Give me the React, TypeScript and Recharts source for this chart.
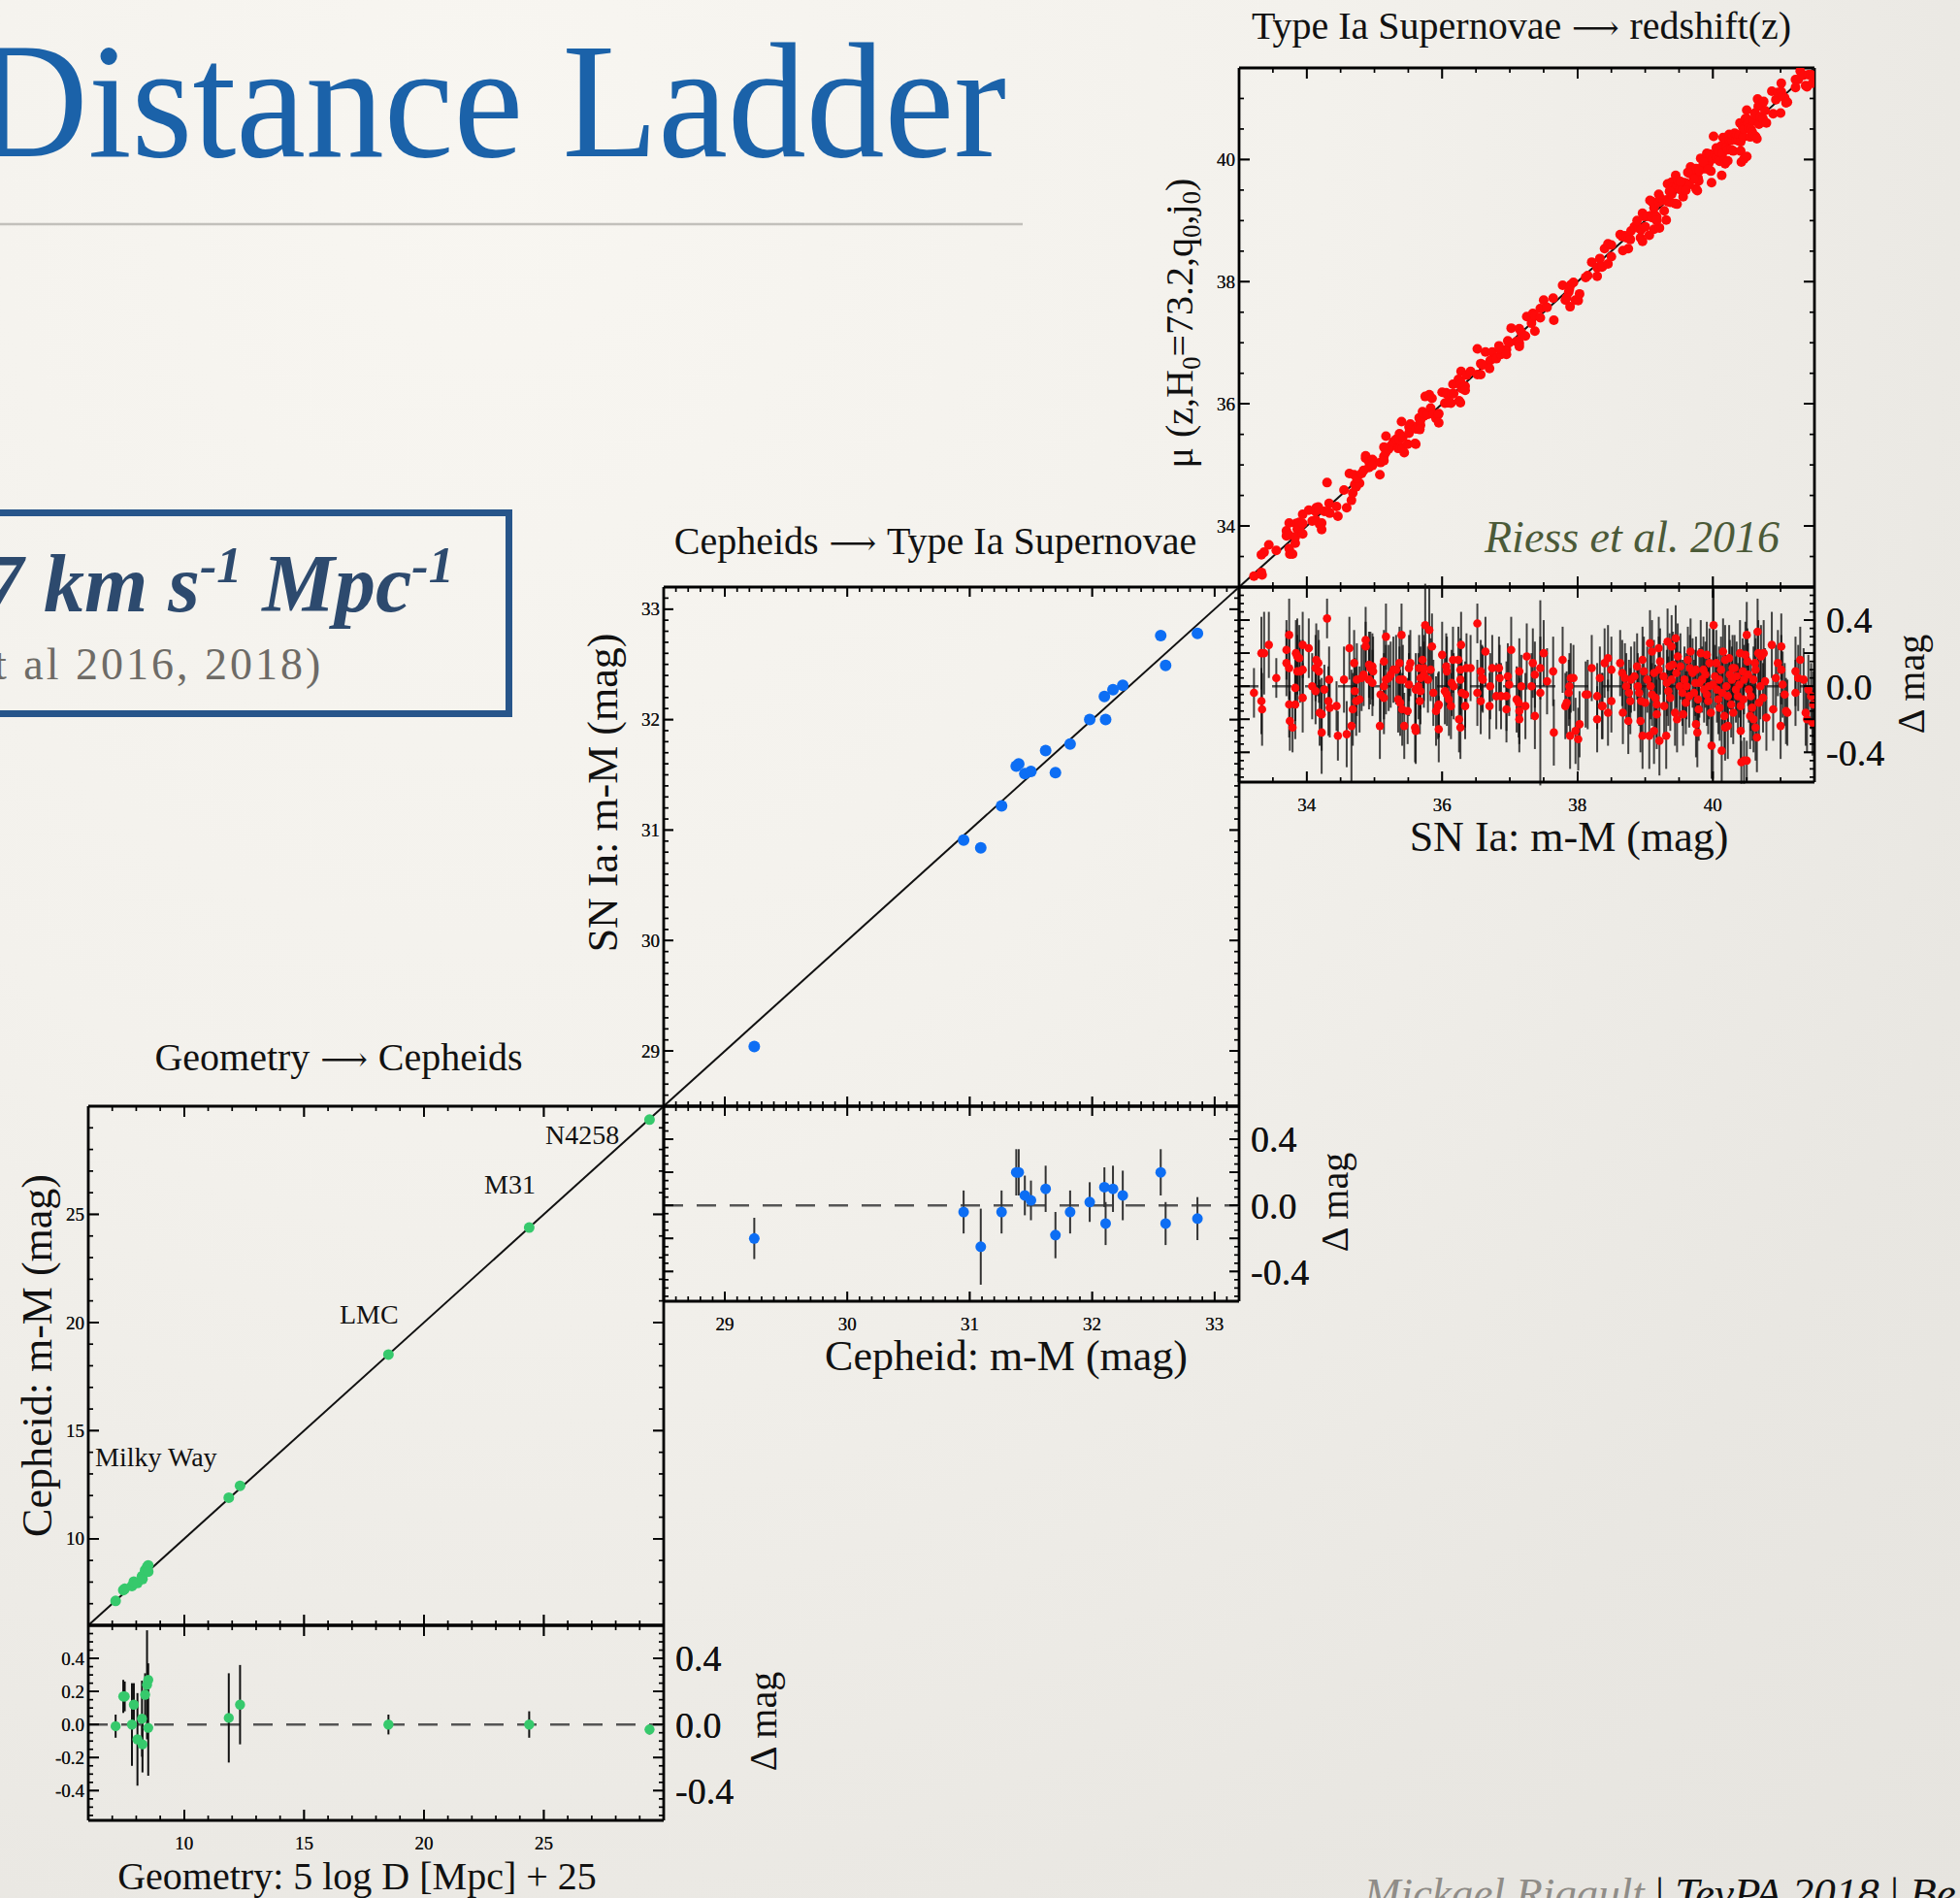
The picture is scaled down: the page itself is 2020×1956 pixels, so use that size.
import { ScatterChart, Scatter, XAxis, YAxis, ReferenceLine, ErrorBar } from 'recharts';

// Geometry -> Cepheids (distance modulus, residual, residual error)
const geoDist = [7.14, 7.46, 7.52, 7.82, 7.9, 8.05, 8.24, 8.26, 8.37, 8.45, 8.5, 8.5, 11.86, 12.33, 18.52, 24.39, 29.41];
const geoDelta = [-0.01, 0.17, 0.17, 0.0, 0.12, -0.09, 0.035, -0.12, 0.18, 0.24, 0.27, -0.02, 0.04, 0.12, 0.0, 0.0, -0.03];
const geoErr = [0.07, 0.1, 0.09, 0.25, 0.13, 0.28, 0.23, 0.17, 0.13, 0.33, 0.1, 0.29, 0.27, 0.24, 0.06, 0.08, 0.03];

// Cepheids -> SN Ia
const cephDist = [29.24, 30.95, 31.09, 31.26, 31.38, 31.4, 31.45, 31.5, 31.62, 31.7, 31.82, 31.98, 32.1, 32.11, 32.17, 32.25, 32.56, 32.6, 32.86];
const cephDelta = [-0.2, -0.04, -0.25, -0.04, 0.2, 0.2, 0.06, 0.03, 0.1, -0.18, -0.04, 0.02, 0.11, -0.11, 0.1, 0.06, 0.2, -0.11, -0.08];
const cephErr = [0.125, 0.13, 0.23, 0.13, 0.14, 0.14, 0.12, 0.12, 0.14, 0.14, 0.13, 0.12, 0.12, 0.13, 0.14, 0.15, 0.14, 0.13, 0.13];

// SN Ia -> redshift: [m-M, residual, error]
const snIa: [number, number, number][] = [
  [33.22, -0.04, 0.15], [33.33, 0.2, 0.22], [33.37, 0.2, 0.25], [33.33, -0.09, 0.2], [33.34, -0.14, 0.22],
  [33.44, 0.25, 0.2], [33.55, 0.05, 0.12], [33.7, 0.22, 0.18], [33.7, 0.14, 0.2], [33.74, 0.31, 0.22],
  [33.74, 0.11, 0.19], [33.74, -0.11, 0.2], [33.75, -0.21, 0.18], [33.79, -0.25, 0.15], [33.83, -0.11, 0.21],
  [33.84, 0.2, 0.2], [33.86, 0.18, 0.23], [33.89, 0.17, 0.2], [33.86, 0.09, 0.22], [33.9, 0.09, 0.19],
  [33.94, 0.1, 0.18], [33.83, -0.01, 0.2], [33.94, -0.07, 0.21], [33.94, 0.25, 0.2], [34.03, 0.23, 0.18],
  [34.08, 0.0, 0.2], [34.13, 0.11, 0.2], [34.14, 0.16, 0.22], [34.17, 0.14, 0.2], [34.18, 0.09, 0.19],
  [34.13, -0.03, 0.2], [34.19, -0.16, 0.2], [34.22, -0.17, 0.22], [34.22, -0.28, 0.25], [34.26, -0.02, 0.15],
  [34.3, 0.41, 0.12], [34.33, 0.04, 0.2], [34.32, -0.09, 0.21], [34.34, -0.13, 0.18], [34.44, -0.12, 0.15],
  [34.46, -0.3, 0.15], [34.55, 0.04, 0.2], [34.59, -0.29, 0.2], [34.63, 0.23, 0.19], [34.66, -0.24, 0.34],
  [34.68, -0.14, 0.22], [34.7, 0.14, 0.2], [34.71, -0.03, 0.2], [34.73, -0.09, 0.21], [34.78, -0.08, 0.2],
  [34.74, 0.04, 0.22], [34.81, 0.05, 0.2], [34.84, 0.07, 0.19], [34.87, 0.24, 0.15], [34.87, 0.28, 0.2],
  [34.92, 0.13, 0.2], [34.94, 0.11, 0.22], [34.97, 0.12, 0.2], [34.98, 0.09, 0.21], [34.92, 0.04, 0.18],
  [34.97, 0.02, 0.2], [35.08, -0.24, 0.2], [35.09, -0.05, 0.19], [35.14, -0.07, 0.22], [35.14, 0.0, 0.2],
  [35.17, 0.04, 0.21], [35.21, 0.05, 0.2], [35.24, 0.07, 0.2], [35.14, 0.15, 0.19], [35.17, 0.3, 0.2],
  [35.28, 0.1, 0.2], [35.32, 0.1, 0.21], [35.37, 0.14, 0.22], [35.35, -0.08, 0.2], [35.38, -0.1, 0.2],
  [35.41, -0.14, 0.22], [35.49, -0.15, 0.2], [35.4, 0.31, 0.19], [35.44, -0.24, 0.2], [35.37, 0.04, 0.2],
  [35.42, 0.04, 0.21], [35.51, 0.11, 0.2], [35.53, 0.14, 0.2], [35.51, 0.01, 0.19], [35.61, -0.02, 0.22],
  [35.65, 0.0, 0.2], [35.68, -0.03, 0.2], [35.6, -0.25, 0.21], [35.61, -0.27, 0.2], [35.66, 0.11, 0.2],
  [35.68, 0.05, 0.19], [35.73, 0.07, 0.2], [35.67, -0.09, 0.2], [35.71, 0.16, 0.21], [35.73, 0.11, 0.2],
  [35.75, 0.37, 0.25], [35.81, 0.34, 0.27], [35.85, 0.24, 0.2], [35.79, 0.04, 0.2], [35.83, 0.1, 0.19],
  [35.87, -0.04, 0.2], [35.91, -0.15, 0.21], [35.94, -0.12, 0.2], [35.95, -0.11, 0.2], [35.95, -0.26, 0.2],
  [36.0, 0.19, 0.2], [36.04, -0.03, 0.2], [36.07, -0.05, 0.19], [36.1, -0.08, 0.22], [36.13, -0.12, 0.2],
  [36.06, 0.12, 0.2], [36.07, 0.09, 0.21], [36.16, 0.16, 0.2], [36.24, 0.16, 0.2], [36.27, 0.1, 0.19],
  [36.14, 0.02, 0.2], [36.17, 0.0, 0.2], [36.27, 0.04, 0.21], [36.29, -0.04, 0.2], [36.34, -0.05, 0.2],
  [36.25, -0.2, 0.2], [36.27, -0.25, 0.19], [36.28, 0.25, 0.2], [36.34, -0.12, 0.2], [36.36, 0.11, 0.21],
  [36.42, 0.11, 0.2], [36.52, 0.38, 0.12], [36.52, -0.04, 0.2], [36.57, -0.09, 0.2], [36.57, 0.09, 0.19],
  [36.59, 0.05, 0.2], [36.6, 0.04, 0.2], [36.64, 0.21, 0.21], [36.71, 0.0, 0.2], [36.7, -0.12, 0.2],
  [36.74, 0.11, 0.2], [36.84, 0.11, 0.19], [36.8, -0.06, 0.2], [36.87, -0.06, 0.2], [36.95, -0.06, 0.21],
  [36.85, 0.05, 0.2], [36.95, -0.14, 0.2], [36.97, 0.06, 0.2], [36.99, 0.01, 0.19], [37.02, 0.22, 0.2],
  [37.1, -0.08, 0.2], [37.13, -0.1, 0.21], [37.14, -0.15, 0.2], [37.14, -0.2, 0.2], [37.14, 0.09, 0.2],
  [37.17, 0.0, 0.19], [37.23, -0.12, 0.2], [37.25, 0.18, 0.2], [37.32, 0.0, 0.2], [37.34, 0.14, 0.21],
  [37.37, 0.07, 0.2], [37.37, -0.18, 0.2], [37.45, 0.11, 0.19], [37.45, -0.04, 0.56], [37.5, 0.2, 0.2],
  [37.55, 0.03, 0.2], [37.64, 0.09, 0.21], [37.65, -0.28, 0.2], [37.78, 0.16, 0.2], [37.82, -0.12, 0.2],
  [37.84, -0.1, 0.19], [37.87, -0.04, 0.2], [37.88, 0.0, 0.2], [37.9, 0.05, 0.21], [37.94, 0.05, 0.2],
  [37.89, -0.3, 0.2], [37.97, -0.27, 0.2], [38.01, -0.32, 0.19], [38.03, -0.23, 0.2], [38.12, -0.05, 0.2],
  [38.15, -0.05, 0.21], [38.21, 0.11, 0.2], [38.29, -0.2, 0.2], [38.29, -0.06, 0.2], [38.33, 0.05, 0.19],
  [38.36, -0.12, 0.2], [38.37, -0.12, 0.2], [38.4, 0.14, 0.21], [38.45, 0.17, 0.2], [38.5, 0.1, 0.2],
  [38.45, -0.16, 0.2], [38.5, -0.09, 0.19], [38.63, 0.14, 0.2], [38.66, 0.08, 0.2], [38.7, 0.05, 0.21],
  [38.72, 0.0, 0.2], [38.76, -0.04, 0.2], [38.78, -0.09, 0.2], [38.67, -0.16, 0.19], [38.75, -0.21, 0.2],
  [38.79, 0.04, 0.2], [38.84, 0.06, 0.21], [38.89, 0.0, 0.2], [38.91, -0.04, 0.2], [38.94, -0.09, 0.2],
  [38.93, -0.21, 0.19], [38.96, -0.3, 0.2], [38.96, 0.16, 0.2], [38.98, 0.09, 0.21], [38.88, 0.12, 0.2],
  [39.0, -0.1, 0.2], [39.07, 0.26, 0.2], [39.1, 0.21, 0.19], [39.06, -0.3, 0.2], [39.13, -0.27, 0.2],
  [39.21, -0.33, 0.21], [39.31, -0.3, 0.2], [39.03, 0.04, 0.2], [39.08, 0.0, 0.2], [39.1, -0.05, 0.19],
  [39.15, -0.07, 0.2], [39.17, -0.11, 0.2], [39.17, -0.17, 0.21], [39.13, 0.08, 0.2], [39.2, 0.1, 0.2],
  [39.22, 0.15, 0.2], [39.2, 0.23, 0.19], [39.27, 0.06, 0.2], [39.32, 0.02, 0.2], [39.34, -0.03, 0.21],
  [39.37, -0.07, 0.2], [39.39, 0.04, 0.2], [39.33, 0.27, 0.2], [39.39, 0.24, 0.19], [39.45, 0.29, 0.2],
  [39.41, 0.13, 0.2], [39.46, 0.08, 0.21], [39.48, 0.18, 0.2], [39.44, -0.16, 0.2], [39.47, -0.2, 0.2],
  [39.56, -0.17, 0.19], [39.28, -0.12, 0.2], [39.36, 0.12, 0.2], [39.51, 0.0, 0.21], [39.55, -0.04, 0.2],
  [39.58, 0.04, 0.2], [39.61, 0.0, 0.2], [39.65, -0.06, 0.19], [39.67, 0.21, 0.2], [39.66, 0.11, 0.2],
  [39.7, 0.08, 0.21], [39.74, 0.02, 0.2], [39.75, 0.1, 0.2], [39.78, -0.08, 0.2], [39.79, -0.14, 0.19],
  [39.82, 0.2, 0.2], [39.75, -0.23, 0.2], [39.77, -0.28, 0.21], [39.84, 0.04, 0.2], [39.87, -0.02, 0.2],
  [39.89, 0.07, 0.2], [39.91, -0.05, 0.19], [39.94, 0.0, 0.2], [39.91, 0.19, 0.2], [39.95, 0.14, 0.21],
  [39.97, -0.16, 0.2], [39.98, -0.36, 0.2], [39.52, 0.12, 0.2], [39.6, -0.1, 0.19], [39.63, 0.16, 0.2],
  [39.72, -0.04, 0.2], [39.8, 0.02, 0.21], [39.86, 0.1, 0.2], [39.93, -0.09, 0.2], [40.01, 0.37, 0.22],
  [40.0, 0.01, 0.57], [40.03, 0.06, 0.19], [40.05, 0.14, 0.2], [40.06, -0.02, 0.2], [40.08, -0.08, 0.21],
  [40.09, 0.04, 0.2], [40.1, -0.13, 0.2], [40.12, 0.1, 0.2], [40.13, -0.39, 0.19], [40.14, -0.04, 0.2],
  [40.15, 0.21, 0.2], [40.18, 0.16, 0.21], [40.17, -0.18, 0.2], [40.18, -0.25, 0.2], [40.22, -0.24, 0.2],
  [40.2, 0.0, 0.19], [40.22, -0.06, 0.2], [40.24, 0.17, 0.2], [40.25, 0.07, 0.21], [40.27, -0.11, 0.2],
  [40.28, 0.04, 0.2], [40.29, 0.11, 0.2], [40.3, -0.16, 0.19], [40.32, 0.11, 0.2], [40.34, -0.02, 0.2],
  [40.35, 0.06, 0.21], [40.37, -0.06, 0.2], [40.39, 0.01, 0.2], [40.4, 0.2, 0.2], [40.41, -0.12, 0.19],
  [40.41, -0.27, 0.2], [40.42, -0.46, 0.13], [40.46, -0.45, 0.14], [40.5, -0.45, 0.12], [40.44, 0.09, 0.2],
  [40.45, -0.08, 0.2], [40.46, 0.04, 0.21], [40.48, 0.19, 0.2], [40.5, 0.31, 0.2], [40.51, 0.15, 0.2],
  [40.52, 0.07, 0.19], [40.53, -0.02, 0.2], [40.55, -0.18, 0.2], [40.56, -0.06, 0.21], [40.58, -0.13, 0.2],
  [40.6, 0.04, 0.2], [40.62, 0.14, 0.2], [40.63, 0.1, 0.19], [40.6, -0.2, 0.2], [40.63, -0.25, 0.2],
  [40.65, -0.31, 0.21], [40.66, 0.33, 0.2], [40.67, 0.2, 0.2], [40.68, -0.1, 0.2], [40.71, 0.18, 0.19],
  [40.75, 0.2, 0.2], [40.7, 0.0, 0.2], [40.74, -0.07, 0.21], [40.77, 0.03, 0.2], [40.79, -0.19, 0.2],
  [40.87, 0.25, 0.2], [40.89, -0.14, 0.19], [40.93, 0.05, 0.2], [40.96, 0.14, 0.2], [41.01, 0.1, 0.21],
  [41.01, 0.24, 0.2], [41.0, -0.24, 0.2], [41.03, 0.01, 0.2], [41.06, -0.05, 0.19], [41.08, -0.15, 0.2],
  [41.1, -0.16, 0.2], [41.22, 0.09, 0.21], [41.26, 0.05, 0.2], [41.29, 0.16, 0.2], [41.22, -0.04, 0.2],
  [41.34, 0.04, 0.19], [41.37, -0.16, 0.2], [41.39, -0.2, 0.2], [41.41, -0.02, 0.21], [41.45, -0.06, 0.2],
  [41.47, -0.22, 0.2], [41.48, -0.11, 0.2],
];

const geoMajor = [10, 15, 20, 25];
const cephMajor = [29, 30, 31, 32, 33];
const snMajor = [34, 36, 38, 40];
const residMajor = [-0.4, -0.2, 0, 0.2, 0.4];
const residRightLabels = [0.4, 0, -0.4];

// minor tick positions (axis decoration only)
const steps = (a: number, b: number, s: number) => {
  const out: number[] = [];
  for (let i = 0; a + i * s <= b + 1e-9; i++) out.push(+(a + i * s).toFixed(3));
  return out;
};
const geoMinor = steps(7, 29, 1);
const cephMinor = steps(28.6, 33.1, 0.1);
const snMinor = steps(33.5, 41, 0.5);
const residMinor = steps(-0.55, 0.55, 0.05);

const SERIF = '"Liberation Serif", "Times New Roman", serif';
const W = 593;
const MAIN_H = 535;
const RES_H = 201;
const RES_DOMAIN: [number, number] = [-0.58, 0.6];
// axes need a non-zero size to be drawn: give them 1px and shift the chart by it
const OX = 1;

const near = (list: number[] | undefined, v: number) => !!list && list.some((m) => Math.abs(m - v) < 1e-6);
const intFmt = (v: number) => String(Math.round(v));
const resFmt = (v: number) => v.toFixed(1);

interface Pt {
  x: number;
  y: number;
  e?: number;
}

interface PlotProps {
  left: number;
  top: number;
  height: number;
  xDomain: [number, number];
  yDomain: [number, number];
  xMajor: number[];
  xMinor: number[];
  yMajor: number[];
  yMinor: number[];
  xLabels?: number[];
  yLabels?: number[];
  rightLabels?: number[];
  xFmt: (v: number) => string;
  yFmt: (v: number) => string;
  data: Pt[];
  color: string;
  r: number;
  errors?: boolean;
  errColor?: string;
  errOpacity?: number;
  diagonal?: boolean;
  zero?: boolean;
  majorLen?: number;
  minorLen?: number;
}

function Plot({
  left, top, height, xDomain, yDomain, xMajor, xMinor, yMajor, yMinor,
  xLabels, yLabels, rightLabels, xFmt, yFmt, data, color, r,
  errors, errColor = '#111', errOpacity = 1, diagonal, zero,
  majorLen = 11, minorLen = 5,
}: PlotProps) {
  const xTicks = [...xMajor, ...xMinor].sort((a, b) => a - b);
  const yTicks = [...yMajor, ...yMinor].sort((a, b) => a - b);

  const xTick = (p: any) => {
    const v = p.payload.value;
    const x = p.x;
    const len = near(xMajor, v) ? majorLen : minorLen;
    return (
      <g>
        <line x1={x} x2={x} y1={height} y2={height - len} stroke="#000" strokeWidth={1.7} />
        <line x1={x} x2={x} y1={0} y2={len} stroke="#000" strokeWidth={1.7} />
        {near(xLabels, v) && (
          <text x={x} y={height + 30} textAnchor="middle" fontFamily={SERIF} fontSize={19} fill="#111">
            {xFmt(v)}
          </text>
        )}
      </g>
    );
  };

  const yTick = (p: any) => {
    const v = p.payload.value;
    const y = p.y;
    const len = near(yMajor, v) ? majorLen : minorLen;
    return (
      <g>
        <line x1={OX} x2={OX + len} y1={y} y2={y} stroke="#000" strokeWidth={1.7} />
        <line x1={OX + W} x2={OX + W - len} y1={y} y2={y} stroke="#000" strokeWidth={1.7} />
        {near(yLabels, v) && (
          <text x={OX - 4} y={y} dy="0.35em" textAnchor="end" fontFamily={SERIF} fontSize={19} fill="#111">
            {yFmt(v)}
          </text>
        )}
        {near(rightLabels, v) && (
          <text x={OX + W + 12} y={y} dy="0.35em" textAnchor="start" fontFamily={SERIF} fontSize={38} fill="#111">
            {yFmt(v)}
          </text>
        )}
      </g>
    );
  };

  const frame = { stroke: '#000', strokeWidth: 2.8 };

  return (
    <div style={{ position: 'absolute', left: left - OX, top, width: W + OX, height: height + 1 }}>
      <ScatterChart width={W + OX} height={height + 1} margin={{ top: 0, right: 0, bottom: 0, left: 0 }}>
        <XAxis
          xAxisId="b"
          type="number"
          dataKey="x"
          domain={xDomain}
          ticks={xTicks}
          allowDataOverflow
          interval={0}
          height={1}
          axisLine={frame}
          tickLine={false}
          tick={xTick}
        />
        <YAxis
          yAxisId="l"
          type="number"
          dataKey="y"
          domain={yDomain}
          ticks={yTicks}
          allowDataOverflow
          interval={0}
          width={1}
          axisLine={frame}
          tickLine={false}
          tick={yTick}
        />
        <ReferenceLine xAxisId="b" yAxisId="l" y={yDomain[1]} stroke="#000" strokeWidth={2.8} ifOverflow="visible" />
        <ReferenceLine xAxisId="b" yAxisId="l" x={xDomain[1]} stroke="#000" strokeWidth={2.8} ifOverflow="visible" />
        {zero && (
          <ReferenceLine xAxisId="b" yAxisId="l" y={0} stroke="#555" strokeWidth={2.5} strokeDasharray="20 14" />
        )}
        {diagonal && (
          <ReferenceLine
            xAxisId="b"
            yAxisId="l"
            segment={[
              { x: xDomain[0], y: yDomain[0] },
              { x: xDomain[1], y: yDomain[1] },
            ]}
            stroke="#111"
            strokeWidth={2}
            ifOverflow="visible"
          />
        )}
        <Scatter
          xAxisId="b"
          yAxisId="l"
          data={data}
          isAnimationActive={false}
          shape={(p: any) => <circle cx={p.cx} cy={p.cy} r={r} fill={color} />}
        >
          {errors && (
            <ErrorBar
              dataKey="e"
              direction="y"
              width={0}
              stroke={errColor}
              strokeOpacity={errOpacity}
              strokeWidth={2}
              isAnimationActive={false}
            />
          )}
        </Scatter>
      </ScatterChart>
    </div>
  );
}

const geoMain = geoDist.map((x, i) => ({ x, y: x + geoDelta[i] }));
const geoRes = geoDist.map((x, i) => ({ x, y: geoDelta[i], e: geoErr[i] }));
const cephMain = cephDist.map((x, i) => ({ x, y: x + cephDelta[i] }));
const cephRes = cephDist.map((x, i) => ({ x, y: cephDelta[i], e: cephErr[i] }));
const snMain = snIa.map(([x, d]) => ({ x, y: x + d }));
const snRes = snIa.map(([x, d, e]) => ({ x, y: d, e }));

const GREEN = '#36c96c';
const BLUE = '#0d6ef4';
const RED = '#ff0a0a';

function Arrow() {
  return (
    <tspan fontFamily='"DejaVu Serif", serif' fontSize={34}>
      {' ⟶ '}
    </tspan>
  );
}

export default function App() {
  const txt = { fontFamily: SERIF, fill: '#111' };
  return (
    <div
      style={{
        position: 'absolute',
        left: 0,
        top: 0,
        width: 2020,
        height: 1956,
        overflow: 'hidden',
        background: 'radial-gradient(ellipse at 25% 8%, #f8f6f1 0%, #f3f1ec 40%, #e9e7e2 78%, #e6e4df 100%)',
      }}
    >
      <style>{'.recharts-surface{overflow:visible} body{margin:0}'}</style>

      {/* Geometry -> Cepheids */}
      <Plot
        left={91} top={1140} height={MAIN_H}
        xDomain={[6, 30]} yDomain={[6, 30]}
        xMajor={geoMajor} xMinor={geoMinor} yMajor={geoMajor} yMinor={geoMinor}
        yLabels={geoMajor} xFmt={intFmt} yFmt={intFmt}
        data={geoMain} color={GREEN} r={5.5} diagonal
      />
      <Plot
        left={91} top={1140 + MAIN_H} height={RES_H}
        xDomain={[6, 30]} yDomain={RES_DOMAIN}
        xMajor={geoMajor} xMinor={geoMinor} yMajor={residMajor} yMinor={residMinor}
        xLabels={geoMajor} yLabels={residMajor} rightLabels={residRightLabels}
        xFmt={intFmt} yFmt={resFmt}
        data={geoRes} color={GREEN} r={5.2} errors zero
      />

      {/* Cepheids -> SN Ia */}
      <Plot
        left={684} top={605} height={MAIN_H}
        xDomain={[28.5, 33.2]} yDomain={[28.5, 33.2]}
        xMajor={cephMajor} xMinor={cephMinor} yMajor={cephMajor} yMinor={cephMinor}
        yLabels={cephMajor} xFmt={intFmt} yFmt={intFmt}
        data={cephMain} color={BLUE} r={6} diagonal majorLen={10} minorLen={5}
      />
      <Plot
        left={684} top={605 + MAIN_H} height={RES_H}
        xDomain={[28.5, 33.2]} yDomain={RES_DOMAIN}
        xMajor={cephMajor} xMinor={cephMinor} yMajor={residMajor} yMinor={residMinor}
        xLabels={cephMajor} rightLabels={residRightLabels}
        xFmt={intFmt} yFmt={resFmt}
        data={cephRes} color={BLUE} r={5.5} errors zero errColor="#333" majorLen={10} minorLen={5}
      />

      {/* SN Ia -> redshift */}
      <Plot
        left={1277} top={70} height={MAIN_H}
        xDomain={[33, 41.5]} yDomain={[33, 41.5]}
        xMajor={snMajor} xMinor={snMinor} yMajor={snMajor} yMinor={snMinor}
        yLabels={snMajor} xFmt={intFmt} yFmt={intFmt}
        data={snMain} color={RED} r={5} diagonal
      />
      <Plot
        left={1277} top={70 + MAIN_H} height={RES_H}
        xDomain={[33, 41.5]} yDomain={RES_DOMAIN}
        xMajor={snMajor} xMinor={snMinor} yMajor={residMajor} yMinor={residMinor}
        xLabels={snMajor} rightLabels={residRightLabels}
        xFmt={intFmt} yFmt={resFmt}
        data={snRes} color={RED} r={4.3} errors zero errColor="#111" errOpacity={0.78}
      />

      <svg
        width={2020}
        height={1956}
        style={{ position: 'absolute', left: 0, top: 0, pointerEvents: 'none' }}
      >
        <text transform="translate(-26,161) scale(0.956,1)" fontFamily={SERIF} fontSize={169} fill="#1b62a9">
          Distance Ladder
        </text>
        <line x1={0} x2={1054} y1={231} y2={231} stroke="#c2c0bb" strokeWidth={2.5} />

        <rect x={-20} y={528.5} width={544.5} height={207} fill="none" stroke="#27558a" strokeWidth={7} />
        <text x={-18} y={630} fontFamily={SERIF} fontSize={84} fontWeight="bold" fontStyle="italic" fill="#2d4a6e">
          7 km s
          <tspan dy={-30} fontSize={52}>-1</tspan>
          <tspan dy={30}> Mpc</tspan>
          <tspan dy={-30} fontSize={52}>-1</tspan>
        </text>
        <text x={-6} y={700} fontFamily={SERIF} fontSize={46} letterSpacing={3} fill="#6e6b66">
          t al 2016, 2018)
        </text>

        <text x={1568} y={40} textAnchor="middle" fontSize={40} {...txt}>
          Type Ia Supernovae<Arrow />redshift(z)
        </text>
        <text x={964} y={571} textAnchor="middle" fontSize={40} {...txt}>
          Cepheids<Arrow />Type Ia Supernovae
        </text>
        <text x={349} y={1103} textAnchor="middle" fontSize={40} {...txt}>
          Geometry<Arrow />Cepheids
        </text>

        <text x={1617} y={877} textAnchor="middle" fontSize={44} {...txt}>SN Ia: m-M (mag)</text>
        <text x={1037} y={1412} textAnchor="middle" fontSize={44} {...txt}>Cepheid: m-M (mag)</text>
        <text x={368} y={1947} textAnchor="middle" fontSize={40} {...txt}>Geometry: 5 log D [Mpc] + 25</text>

        <text transform="translate(1229,333) rotate(-90)" textAnchor="middle" fontSize={40} {...txt}>
          μ (z,H<tspan dy={8} fontSize={27}>0</tspan>
          <tspan dy={-8}>=73.2,q</tspan>
          <tspan dy={8} fontSize={27}>0</tspan>
          <tspan dy={-8}>,j</tspan>
          <tspan dy={8} fontSize={27}>0</tspan>
          <tspan dy={-8}>)</tspan>
        </text>
        <text transform="translate(636,817) rotate(-90)" textAnchor="middle" fontSize={44} {...txt}>SN Ia: m-M (mag)</text>
        <text transform="translate(53,1397) rotate(-90)" textAnchor="middle" fontSize={44} {...txt}>Cepheid: m-M (mag)</text>

        <text transform="translate(1983,705) rotate(-90)" textAnchor="middle" fontSize={40} {...txt}>Δ mag</text>
        <text transform="translate(1389,1239) rotate(-90)" textAnchor="middle" fontSize={40} {...txt}>Δ mag</text>
        <text transform="translate(800,1774) rotate(-90)" textAnchor="middle" fontSize={40} {...txt}>Δ mag</text>

        <text x={562} y={1179} fontSize={28} {...txt}>N4258</text>
        <text x={499} y={1230} fontSize={28} {...txt}>M31</text>
        <text x={350} y={1364} fontSize={28} {...txt}>LMC</text>
        <text x={98} y={1511} fontSize={28} {...txt}>Milky Way</text>

        <text x={1530} y={569} fontFamily={SERIF} fontStyle="italic" fontSize={46} fill="#4b5a38">
          Riess et al. 2016
        </text>

        <text x={1406} y={1966} fontFamily={SERIF} fontStyle="italic" fontSize={45} fill="#111">
          <tspan fill="#8f8c87">Mickael Rigault</tspan>
          <tspan fontStyle="normal"> | </tspan>
          <tspan>TevPA 2018</tspan>
          <tspan fontStyle="normal"> | </tspan>
          <tspan>Be</tspan>
        </text>
      </svg>
    </div>
  );
}
